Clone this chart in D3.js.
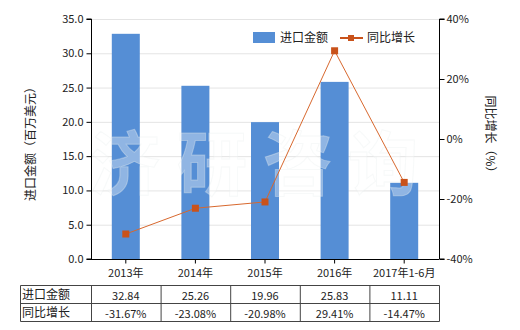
<!DOCTYPE html>
<html><head><meta charset="utf-8">
<script src="https://cdn.jsdelivr.net/npm/d3@7"></script>
<style>body{margin:0;background:#fff}svg{display:block}text{font-family:"Noto Sans CJK SC","Noto Sans",sans-serif}</style>
</head><body><svg id="c" width="520" height="330"></svg>
<script>
const categories = ["2013年","2014年","2015年","2016年","2017年1-6月"];
const importValues = [32.84,25.26,19.96,25.83,11.11];
const growthValues = [-31.67,-23.08,-20.98,29.41,-14.47];
const importLabels = ["32.84","25.26","19.96","25.83","11.11"];
const growthLabels = ["-31.67%","-23.08%","-20.98%","29.41%","-14.47%"];
const leftTicks = [0,5,10,15,20,25,30,35];
const rightTicks = [-40,-20,0,20,40];
const seriesNames = ["进口金额","同比增长"];

const svg = d3.select("#c");
const L=91,R=439,T=19,B=259;
const x = d3.scaleBand().domain(categories).range([L,R]);
const yL = d3.scaleLinear().domain([0,35]).range([B,T]);
const yR = d3.scaleLinear().domain([-40,40]).range([B,T]);
const barColor="#558ed5", lineColor="#d8682e", markColor="#c9521a";

// grid
svg.append("g").selectAll("line").data(leftTicks.slice(1)).join("line")
 .attr("x1",L).attr("x2",R).attr("y1",d=>yL(d)+0.5).attr("y2",d=>yL(d)+0.5)
 .attr("stroke","#e4e4e4");

// bars
const bw=28;
svg.append("g").selectAll("rect").data(importValues).join("rect")
 .attr("x",(d,i)=>x(categories[i])+x.bandwidth()/2-bw/2).attr("width",bw)
 .attr("y",d=>yL(d)).attr("height",d=>B-yL(d)).attr("fill",barColor);

// watermark
const wm = ["济","研","咨","询"], wmx=[125,212,298,383];
svg.append("g").selectAll("text").data(wm).join("text")
 .attr("x",(d,i)=>wmx[i]).attr("y",190).attr("text-anchor","middle")
 .attr("font-size",70).attr("font-weight","bold")
 .attr("fill","#ffffff").attr("fill-opacity",0.35)
 .attr("stroke","#e8eeee").attr("stroke-opacity",0.35).attr("stroke-width",1)
 .text(d=>d);

// line
const line = d3.line().x((d,i)=>x(categories[i])+x.bandwidth()/2).y(d=>yR(d));
svg.append("path").datum(growthValues).attr("d",line).attr("fill","none")
 .attr("stroke",lineColor).attr("stroke-width",1);
svg.append("g").selectAll("rect").data(growthValues).join("rect")
 .attr("x",(d,i)=>x(categories[i])+x.bandwidth()/2-3.5).attr("y",d=>yR(d)-3.5)
 .attr("width",7).attr("height",7).attr("fill",markColor);

// axes
const fmt = d3.format(".1f");
const gl = svg.append("g").attr("transform",`translate(${L+0.5},0)`)
 .call(d3.axisLeft(yL).tickValues(leftTicks).tickFormat(fmt).tickSize(5).tickPadding(3));
const gr = svg.append("g").attr("transform",`translate(${R+0.5},0)`)
 .call(d3.axisRight(yR).tickValues(rightTicks).tickFormat(d=>d+"%").tickSize(5).tickPadding(2));
const gb = svg.append("g").attr("transform",`translate(0,${B+0.5})`)
 .call(d3.axisBottom(x).tickSize(4).tickPadding(6).tickSizeOuter(0));
[gl,gr,gb].forEach(g=>{
  g.selectAll("path,line").attr("stroke","#000");
  g.selectAll("text").attr("font-size",11).attr("fill","#222").attr("font-family",'"Noto Sans CJK SC",sans-serif');
});
gl.select(".domain").attr("d",`M-5,${T}H0V${B}H-5`);
gr.select(".domain").attr("d",`M5,${T}H0V${B}H5`);
gb.select(".domain").attr("d",`M${L},0H${R}`);

// axis titles
svg.append("text").attr("transform","translate(35,141) rotate(-90)").attr("text-anchor","middle")
 .attr("font-size",12).attr("fill","#222").text("进口金额（百万美元）");
svg.append("text").attr("transform","translate(486,137) rotate(90)").attr("text-anchor","middle")
 .attr("font-size",12).attr("fill","#222").text("同比增长（%）");

// legend
const lg = svg.append("g");
lg.append("rect").attr("x",253).attr("y",32).attr("width",22).attr("height",11).attr("fill",barColor);
lg.append("text").attr("x",280).attr("y",42).attr("font-size",12).attr("fill","#222").text(seriesNames[0]);
lg.append("line").attr("x1",340).attr("x2",363).attr("y1",38).attr("y2",38).attr("stroke",markColor).attr("stroke-width",2);
lg.append("rect").attr("x",348).attr("y",35).attr("width",6).attr("height",6).attr("fill",markColor);
lg.append("text").attr("x",367).attr("y",42).attr("font-size",12).attr("fill","#222").text(seriesNames[1]);

// table
const tT=285.5, tM=303.5, tB=321.5, tL=20.5;
const cols=[tL].concat(categories.map(c=>x(c)+0.5)).concat([R+0.5]);
const tg=svg.append("g").attr("stroke","#444").attr("stroke-width",1);
[tT,tM,tB].forEach(yy=>tg.append("line").attr("x1",tL).attr("x2",R+0.5).attr("y1",yy).attr("y2",yy));
cols.forEach(xx=>tg.append("line").attr("x1",xx).attr("x2",xx).attr("y1",tT).attr("y2",tB));
const rows=[[seriesNames[0],importLabels],[seriesNames[1],growthLabels]];
rows.forEach((r,ri)=>{
  const yy = (ri===0?tT:tM)+14;
  svg.append("text").attr("x",22).attr("y",yy-1).attr("font-size",12).attr("fill","#222").text(r[0]);
  r[1].forEach((v,i)=>svg.append("text").attr("x",x(categories[i])+x.bandwidth()/2).attr("y",yy)
    .attr("text-anchor","middle").attr("font-size",11).attr("fill","#222").text(v));
});
</script></body></html>
